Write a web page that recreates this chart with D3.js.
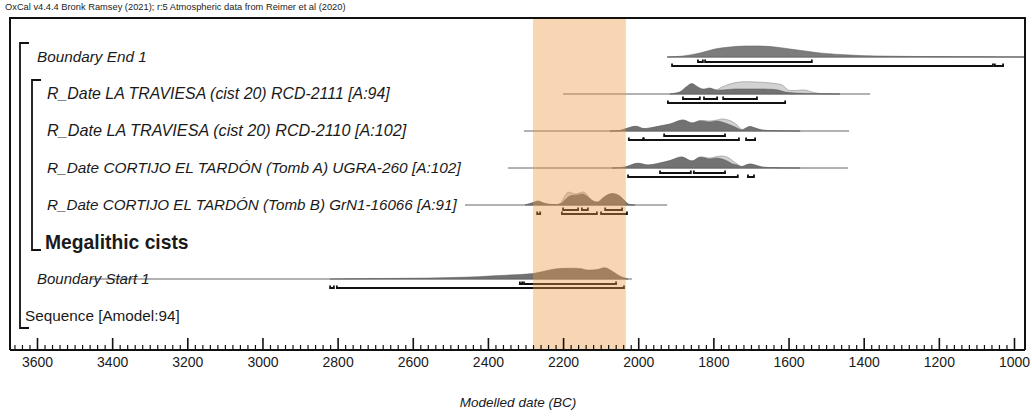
<!DOCTYPE html>
<html>
<head>
<meta charset="utf-8">
<script src="https://cdn.jsdelivr.net/npm/d3@7"></script>
<style>
  body { margin: 0; background: #fff; }
  svg { display: block; font-family: "Liberation Sans", Arial, sans-serif; }
</style>
</head>
<body>
<div id="chart"></div>
<script>
// ---- row labels (top to bottom) ----
var rowLabels = [
    'Boundary End 1',
    'R_Date LA TRAVIESA (cist 20) RCD-2111 [A:94]',
    'R_Date LA TRAVIESA (cist 20) RCD-2110 [A:102]',
    'R_Date CORTIJO EL TARDÓN (Tomb A) UGRA-260 [A:102]',
    'R_Date CORTIJO EL TARDÓN (Tomb B) GrN1-16066 [A:91]',
    'Megalithic cists',
    'Boundary Start 1',
    'Sequence [Amodel:94]'
];

// axis ticks (years BC)
var majorTicks = [3600, 3400, 3200, 3000, 2800, 2600, 2400, 2200, 2000, 1800, 1600, 1400, 1200, 1000];
var highlight = [2280, 2033];   // shaded interval BC

// ---- baselines [from, to] in years BC ----
var endSpan = [1923, 971];
var r2111Span = [2200, 1383];
var r2110Span = [2304, 1439];
var ugraSpan = [2347, 1442];
var grnSpan = [2461, 1923];
var startSpan = [3459, 2017];

// ---- posterior densities [year BC, relative prob] ----
var endPost = [[1923, 0], [1881, 1], [1836, 4], [1796, 8], [1756, 10], [1716, 11], [1676, 11], [1636, 10],
    [1596, 8], [1556, 6], [1516, 4], [1463, 2.5], [1410, 1.5], [1357, 1], [1250, 0.5], [1117, 0.3], [971, 0]];

var r2111Like = [[1915, 0], [1889, 2], [1873, 6], [1857, 8], [1841, 6], [1828, 4], [1809, 5], [1793, 4],
    [1777, 7], [1756, 10], [1729, 12], [1689, 12], [1649, 11], [1617, 9], [1601, 4], [1583, 3.5],
    [1556, 4], [1538, 2], [1516, 0.5], [1463, 0]];
var r2111Post = [[1915, 0], [1889, 2], [1873, 7], [1857, 10.5], [1841, 7], [1828, 5], [1809, 6], [1793, 4],
    [1777, 4], [1743, 5], [1703, 5], [1663, 5], [1628, 4], [1609, 2], [1583, 1], [1543, 0.5], [1463, 0]];

var r2110Like = [[2075, 0], [2049, 0.5], [2027, 3], [2006, 4.7], [1987, 2.5], [1969, 3], [1942, 5],
    [1915, 7], [1881, 11], [1857, 8], [1836, 10.5], [1809, 10], [1790, 11], [1777, 12], [1761, 11],
    [1748, 9], [1737, 6], [1724, 1.5], [1713, 3], [1703, 4.5], [1689, 3], [1671, 1], [1631, 0.3], [1569, 0]];
var r2110Post = [[2075, 0], [2049, 0.5], [2027, 3], [2006, 4.7], [1987, 2.5], [1969, 3], [1942, 5],
    [1915, 7], [1881, 11], [1857, 8], [1836, 10], [1809, 9], [1790, 10], [1769, 8], [1748, 5],
    [1737, 3], [1724, 1], [1713, 3], [1703, 4.5], [1689, 3], [1671, 1], [1631, 0.3], [1569, 0]];

var ugraLike = [[2070, 0], [2035, 1], [2003, 4.7], [1974, 3], [1942, 5], [1915, 7.5], [1884, 11],
    [1857, 7], [1836, 11], [1809, 10], [1790, 11.5], [1777, 12], [1761, 10.5], [1748, 7], [1737, 4],
    [1724, 1.5], [1713, 3], [1703, 4], [1689, 3], [1671, 1], [1631, 0.3], [1569, 0]];
var ugraPost = [[2070, 0], [2035, 1], [2003, 4.7], [1974, 3], [1942, 5], [1915, 7.5], [1884, 11],
    [1857, 7], [1836, 10.7], [1809, 9], [1790, 10], [1769, 8], [1748, 4], [1737, 3], [1724, 1.5],
    [1713, 3], [1703, 4], [1689, 3], [1671, 1], [1631, 0.3], [1569, 0]];

var grnLike = [[2301, 0], [2283, 2], [2267, 4], [2248, 1.5], [2230, 0.5], [2208, 1.5], [2195, 9],
    [2187, 12.7], [2168, 11], [2155, 12], [2144, 13], [2134, 9], [2120, 4], [2107, 3], [2094, 7],
    [2080, 10], [2070, 11], [2054, 10], [2038, 5], [2027, 1], [2009, 0]];
var grnPost = [[2301, 0], [2283, 2], [2267, 3.7], [2248, 1.5], [2230, 0.5], [2208, 1], [2195, 5],
    [2182, 9], [2163, 10], [2147, 11], [2134, 8], [2120, 4], [2107, 3], [2094, 7], [2080, 10.5],
    [2070, 11.5], [2054, 10], [2038, 5], [2027, 1], [2009, 0]];

var startPost = [[2820, 0], [2687, 0.5], [2554, 1], [2448, 2], [2368, 3.5], [2315, 4.5], [2280, 5.5],
    [2248, 8], [2222, 10], [2195, 10.7], [2155, 10.5], [2136, 9], [2110, 9.5], [2088, 11.3],
    [2070, 8], [2049, 3], [2035, 1], [2027, 0]];

// ---- highest posterior density ranges [from, to] ----
var end68 = [[1841, 1828], [1822, 1538]];
var end95 = [[1910, 1056], [1051, 1029]];
var r2111_68 = [[1881, 1836], [1825, 1790], [1774, 1684]];
var r2111_95 = [[1921, 1609]];
var r2110_68 = [[1931, 1769]];
var r2110_95 = [[2025, 1987], [1985, 1732], [1713, 1689]];
var ugra68 = [[1942, 1860], [1852, 1769]];
var ugra95 = [[2027, 1735], [1708, 1692]];
var grn68 = [[2200, 2160], [2150, 2134], [2088, 2043]];
var grn95 = [[2269, 2261], [2203, 2110], [2099, 2030]];
var start68 = [[2315, 2309], [2304, 2059]];
var start95 = [[2820, 2810], [2802, 2038]];

var rows = [
    { span: endSpan, post: endPost, like: null, r68: end68, r95: end95 },
    { span: r2111Span, post: r2111Post, like: r2111Like, r68: r2111_68, r95: r2111_95 },
    { span: r2110Span, post: r2110Post, like: r2110Like, r68: r2110_68, r95: r2110_95 },
    { span: ugraSpan, post: ugraPost, like: ugraLike, r68: ugra68, r95: ugra95 },
    { span: grnSpan, post: grnPost, like: grnLike, r68: grn68, r95: grn95 },
    null,
    { span: startSpan, post: startPost, like: null, r68: start68, r95: start95 },
    null
];

var W = 1032, H = 418;
var frameLeft = 10, frameRight = 1025, frameTop = 18, axisY = 350;

var svg = d3.select('#chart').append('svg').attr('width', W).attr('height', H);

var x = d3.scaleLinear().domain([3600, 1000]).range([37, 1014]);
var rowY = d3.scaleLinear().domain([0, 7]).range([57, 316]);
var dens = d3.scaleLinear().domain([0, 13]).range([0, 13]);

// header
svg.append('text')
    .attr('x', 5).attr('y', 10)
    .style('font-size', '9.3px')
    .attr('fill', '#222')
    .text('OxCal v4.4.4 Bronk Ramsey (2021); r:5 Atmospheric data from Reimer et al (2020)');

// distributions
var g = svg.append('g');
rows.forEach(function (r, i) {
    if (!r) return;
    var base = rowY(i);
    var area = d3.area()
        .x(function (d) { return x(d[0]); })
        .y0(base)
        .y1(function (d) { return base - dens(d[1]); })
        .curve(d3.curveCatmullRom);

    g.append('line')
        .attr('x1', x(r.span[0])).attr('x2', x(r.span[1]))
        .attr('y1', base).attr('y2', base)
        .attr('stroke', '#555').attr('stroke-width', 0.9);

    if (r.like) {
        g.append('path').datum(r.like).attr('d', area)
            .attr('fill', '#d2d2d2').attr('stroke', '#9a9a9a').attr('stroke-width', 0.7);
    }
    g.append('path').datum(r.post).attr('d', area)
        .attr('fill', i == 0 ? '#7c7c7c' : '#727272').attr('stroke', '#5a5a5a').attr('stroke-width', 0.5);

    // ranges: 68.2% above, 95.4% below
    [[r.r68, 5], [r.r95, 9]].forEach(function (set) {
        set[0].forEach(function (rg) {
            var x0 = x(rg[0]), x1 = x(rg[1]), yy = base + set[1];
            g.append('path')
                .attr('d', 'M' + x0 + ',' + (yy - 2.5) + 'V' + yy + 'H' + x1 + 'V' + (yy - 2.5))
                .attr('fill', 'none').attr('stroke', '#111').attr('stroke-width', 1.8);
        });
    });
});

// labels
var indent = [37, 47, 47, 47, 47, 45, 37, 25];
var fsize = [15.3, 15.9, 16.2, 15.4, 15.2, 19.3, 15, 15.3];
svg.append('g').selectAll('text')
    .data(rowLabels)
    .enter().append('text')
    .attr('x', function (d, i) { return indent[i]; })
    .attr('y', function (d, i) { return rowY(i) + (i == 5 ? 7 : 5); })
    .style('font-size', function (d, i) { return fsize[i] + 'px'; })
    .style('font-weight', function (d, i) { return i == 5 ? 'bold' : 'normal'; })
    .style('font-style', function (d, i) { return (i == 5 || i == 7) ? 'normal' : 'italic'; })
    .attr('fill', '#1a1a1a')
    .text(function (d) { return d; });

// brackets for sequence / phase
function bracket(xx, y0, y1, len) {
    svg.append('path')
        .attr('d', 'M' + (xx + len) + ',' + y0 + 'H' + xx + 'V' + y1 + 'H' + (xx + len))
        .attr('fill', 'none').attr('stroke', '#111').attr('stroke-width', 1.8);
}
bracket(20, 43, 328, 9);
bracket(32, 80, 250, 9);

// shaded interval
svg.append('rect')
    .attr('x', x(highlight[0])).attr('width', x(highlight[1]) - x(highlight[0]))
    .attr('y', frameTop).attr('height', axisY - frameTop)
    .attr('fill', 'rgb(237,152,68)').attr('fill-opacity', 0.4);

// frame
svg.append('path')
    .attr('d', 'M' + frameLeft + ',' + axisY + 'V' + frameTop + 'H' + frameRight + 'V' + axisY)
    .attr('fill', 'none').attr('stroke', '#111').attr('stroke-width', 2);

// axis
var minorTicks = d3.range(3660, 980, -20).filter(function (v) { return v % 200 != 0; });
var axMinor = d3.axisBottom(x).tickValues(minorTicks).tickSize(-5).tickSizeOuter(0).tickFormat('');
var axMajor = d3.axisBottom(x).tickValues(majorTicks).tickSize(-12).tickSizeOuter(0).tickPadding(7)
    .tickFormat(d3.format('d'));

var gm = svg.append('g').attr('transform', 'translate(0,' + axisY + ')').call(axMinor);
var gM = svg.append('g').attr('transform', 'translate(0,' + axisY + ')').call(axMajor);
[gm, gM].forEach(function (ga) {
    ga.select('.domain').remove();
    ga.selectAll('line').attr('stroke', '#111').attr('stroke-width', 1.2);
});
gM.selectAll('line').attr('stroke-width', 1.6);
gM.selectAll('text')
    .style('font-size', '14px')
    .style('font-family', '"Liberation Sans", Arial, sans-serif')
    .attr('fill', '#1a1a1a');

svg.append('line')
    .attr('x1', frameLeft).attr('x2', frameRight)
    .attr('y1', axisY).attr('y2', axisY)
    .attr('stroke', '#111').attr('stroke-width', 2.2);

svg.append('text')
    .attr('x', 518).attr('y', 407)
    .attr('text-anchor', 'middle')
    .style('font-size', '13.5px')
    .style('font-style', 'italic')
    .attr('fill', '#1a1a1a')
    .text('Modelled date (BC)');
</script>
</body>
</html>
